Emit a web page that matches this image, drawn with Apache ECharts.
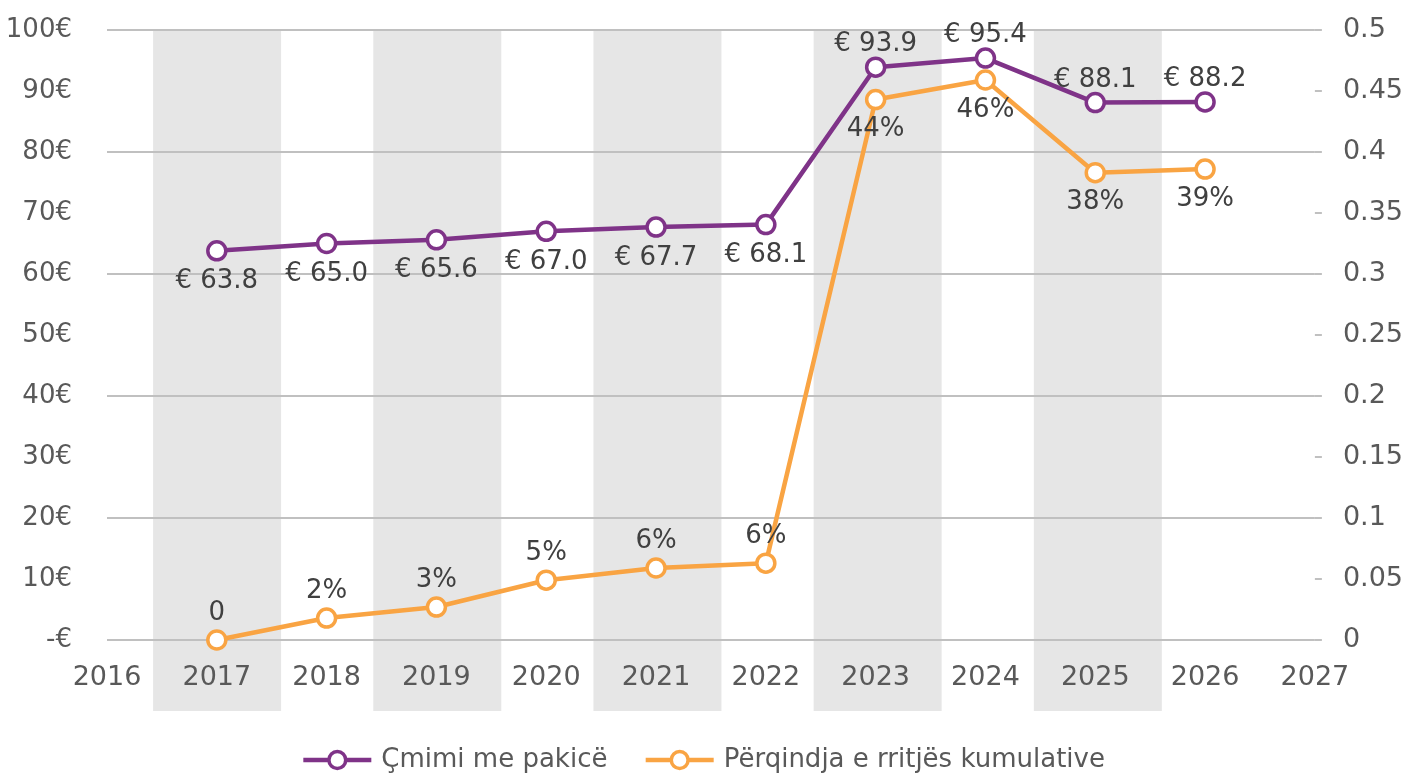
<!DOCTYPE html>
<html>
<head>
<meta charset="utf-8">
<script src="https://cdn.jsdelivr.net/npm/echarts@6/dist/echarts.min.js"></script>
<style>
  html, body { margin: 0; padding: 0; background: #fff; }
  #chart { width: 1406px; height: 774px; }
</style>
</head>
<body>
<div id="chart"></div>
<script>
// data
const years = [2017, 2018, 2019, 2020, 2021, 2022, 2023, 2024, 2025, 2026];
const prices = [63.8, 65.0, 65.6, 67.0, 67.7, 68.1, 93.9, 95.4, 88.1, 88.2];
const growth = [0, 0.018, 0.027, 0.049, 0.059, 0.063, 0.443, 0.459, 0.383, 0.386];
const bandYears = [2017, 2019, 2021, 2023, 2025];
const bandValues = [1, 1, 1, 1, 1];

const seriesNames = ['Çmimi me pakicë', 'Përqindja e rritjës kumulative'];

const fontFam = '"DejaVu Sans", sans-serif';
const axisColor = '#595959';
const labelColor = '#404040';
const purple = '#7f3388';
const orange = '#f9a443';

const chart = echarts.init(document.getElementById('chart'));

const priceData = years.map((y, i) => ({
    value: [y, prices[i]],
    label: { position: i < 6 ? 'bottom' : 'top', distance: i < 6 ? 7 : -1 }
}));
const growthData = years.map((y, i) => ({
    value: [y, growth[i]],
    label: { position: i < 6 ? 'top' : 'bottom', distance: i < 6 ? 3 : 6 }
}));

const option = {
    animation: false,
    textStyle: { fontFamily: fontFam },
    grid: [
        { left: 107, right: 88, top: 30, bottom: 134 },
        { left: 107, right: 88, top: 30, bottom: 63 }
    ],
    legend: {
        top: 742,
        left: 'center',
        itemWidth: 68,
        itemHeight: 21,
        itemGap: 36,
        lineStyle: { width: 4.5 },
        itemStyle: { borderWidth: 3.5 },
        textStyle: { fontFamily: fontFam, fontSize: 26, color: axisColor, padding: [0, 0, 0, 5] },
        data: seriesNames
    },
    xAxis: [
        {
            type: 'value', gridIndex: 0, min: 2016, max: 2027, interval: 1,
            axisLine: { show: false }, axisTick: { show: false }, splitLine: { show: false },
            axisLabel: {
                color: axisColor, fontSize: 27, margin: 24, fontFamily: fontFam,
                formatter: v => String(v)
            }
        },
        {
            type: 'value', gridIndex: 1, min: 2016, max: 2027, show: false
        }
    ],
    yAxis: [
        {
            type: 'value', gridIndex: 0, min: 0, max: 100, interval: 10,
            axisLine: { show: false }, axisTick: { show: false }, splitLine: { show: false },
            axisLabel: {
                color: axisColor, fontSize: 26, margin: 35, fontFamily: fontFam,
                formatter: v => v === 0 ? '-€' : v + '€'
            }
        },
        {
            type: 'value', gridIndex: 0, min: 0, max: 0.5, interval: 0.05, position: 'right',
            axisLine: { show: false },
            axisTick: { show: true, length: 7, lineStyle: { color: '#c0c0c0', width: 2 } },
            splitLine: { show: false },
            axisLabel: { color: axisColor, fontSize: 27, margin: 28, fontFamily: fontFam }
        },
        {
            // only for the gridlines every 20
            type: 'value', gridIndex: 0, min: 0, max: 100, interval: 20,
            axisLine: { show: false }, axisTick: { show: false }, axisLabel: { show: false },
            splitLine: { show: true, lineStyle: { color: '#c0c0c0', width: 2 } }
        },
        {
            type: 'value', gridIndex: 1, min: 0, max: 1, show: false
        }
    ],
    series: [
        {
            type: 'bar',
            xAxisIndex: 1, yAxisIndex: 3,
            data: bandYears.map((y, i) => [y, bandValues[i]]),
            barWidth: 128,
            itemStyle: { color: '#e6e6e6' },
            silent: true,
            z: -1
        },
        {
            name: seriesNames[0],
            type: 'line',
            xAxisIndex: 0, yAxisIndex: 0,
            data: priceData,
            symbol: 'circle',
            symbolSize: 18,
            lineStyle: { color: purple, width: 4.5 },
            itemStyle: { color: '#fff', borderColor: purple, borderWidth: 3.5 },
            label: {
                show: true, color: labelColor, fontSize: 26, fontFamily: fontFam,
                formatter: p => '€ ' + p.value[1].toFixed(1)
            },
            z: 3
        },
        {
            name: seriesNames[1],
            type: 'line',
            xAxisIndex: 0, yAxisIndex: 1,
            data: growthData,
            symbol: 'circle',
            symbolSize: 18,
            lineStyle: { color: orange, width: 4.5 },
            itemStyle: { color: '#fff', borderColor: orange, borderWidth: 3.5 },
            label: {
                show: true, color: labelColor, fontSize: 26, fontFamily: fontFam,
                formatter: p => p.value[1] === 0 ? '0' : Math.round(p.value[1] * 100) + '%'
            },
            z: 3
        }
    ]
};

chart.setOption(option);
chart.resize();
</script>
</body>
</html>
